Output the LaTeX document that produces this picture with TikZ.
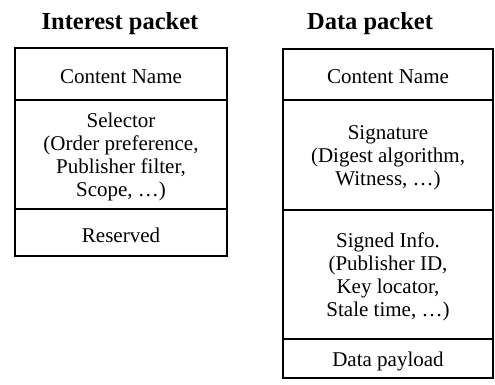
\documentclass[tikz,border=0pt]{standalone}
\usepackage{fontspec}
\setmainfont{Liberation Serif}
\begin{document}
\begin{tikzpicture}[x=1pt,y=-1pt,
  cell/.style={draw=black, line width=2pt, rectangle, inner sep=0pt},
  lcell/.style={cell, minimum width=212pt},
  rcell/.style={cell, minimum width=210pt},
  txt/.style={align=center, inner sep=0pt, yshift=-2.5pt,
    font=\fontsize{21}{23}\selectfont},
  title/.style={font=\bfseries\fontsize{24.5}{28}\selectfont, inner sep=0pt}]
\useasboundingbox (0,0) rectangle (495,385);

% Interest packet
\node[title] (ititle) at (120,24) {Interest packet};
\node[lcell, minimum height=52pt, label={[txt]center:Content Name}] (iname) at (121,74) {};
\node[lcell, minimum height=109pt, label={[txt]center:Selector\\(Order preference,\\Publisher filter,\\Scope, \dots)}] (isel) at (121,154.5) {};
\node[lcell, minimum height=47pt, label={[txt]center:Reserved}] (ires) at (121,232.5) {};

% Data packet
\node[title] (dtitle) at (370,24) {Data packet};
\node[rcell, minimum height=51pt, label={[txt]center:Content Name}] (dname) at (388,74.5) {};
\node[rcell, minimum height=110pt, label={[txt]center:Signature\\(Digest algorithm,\\Witness, \dots)}] (dsig) at (388,155) {};
\node[rcell, minimum height=129pt, label={[txt]center:Signed Info.\\(Publisher ID,\\Key locator,\\Stale time, \dots)}] (dinfo) at (388,274.5) {};
\node[rcell, minimum height=39pt, label={[txt]center:Data payload}] (dpay) at (388,358.5) {};
\end{tikzpicture}
\end{document}
